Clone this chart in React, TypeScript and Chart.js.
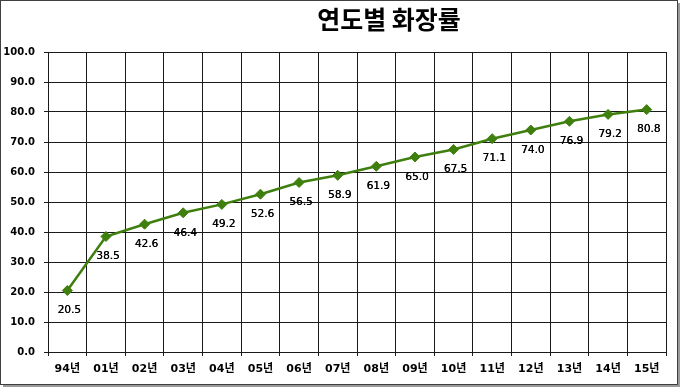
import React, { useEffect, useRef } from "react";
import { Chart, registerables } from "chart.js";

Chart.register(...registerables);

const TITLE = "연도별 화장률";
const categories = ["94년", "01년", "02년", "03년", "04년", "05년", "06년", "07년", "08년", "09년", "10년", "11년", "12년", "13년", "14년", "15년"];
const rates = [20.5, 38.5, 42.6, 46.4, 49.2, 52.6, 56.5, 58.9, 61.9, 65.0, 67.5, 71.1, 74.0, 76.9, 79.2, 80.8];

const FONT = "'DejaVu Sans', 'Noto Sans CJK KR', sans-serif";
const GREEN = "#3F7F0E";

const framePlugin = {
  id: "frame",
  beforeDraw(chart: any) {
    const { ctx } = chart;
    ctx.save();
    ctx.fillStyle = "#ffffff";
    ctx.fillRect(0, 0, chart.width, chart.height);
    ctx.fillStyle = "#9a9a9a";
    ctx.fillRect(3, 384, 676, 3);
    ctx.fillRect(677, 3, 3, 384);
    ctx.strokeStyle = "#404040";
    ctx.lineWidth = 1;
    ctx.strokeRect(0.5, 0.5, 677, 384);
    ctx.restore();
  },
  afterDraw(chart: any) {
    const { ctx } = chart;
    ctx.save();
    ctx.fillStyle = "#000";
    ctx.font = `bold 25px 'Noto Sans CJK KR', sans-serif`;
    ctx.textAlign = "center";
    ctx.textBaseline = "middle";
    ctx.fillText(TITLE, 389, 19);
    // value labels
    const meta = chart.getDatasetMeta(0);
    ctx.font = `10.5px ${FONT}`;
    ctx.fillStyle = "#000";
    meta.data.forEach((pt: any, i: number) => {
      const t = rates[i].toFixed(1);
      ctx.fillText(t, pt.x + 2, pt.y + 20);
      ctx.fillText(t, pt.x + 2.3, pt.y + 20);
    });
    ctx.restore();
  },
};

export default function App() {
  const ref = useRef<HTMLCanvasElement | null>(null);
  useEffect(() => {
    if (!ref.current) return;
    const chart = new Chart(ref.current, {
      type: "line",
      data: {
        labels: categories,
        datasets: [
          {
            data: rates,
            borderColor: GREEN,
            backgroundColor: GREEN,
            borderWidth: 2.5,
            pointStyle: "rectRot",
            pointRadius: 5,
            pointBorderWidth: 1,
            pointBackgroundColor: GREEN,
            pointBorderColor: GREEN,
            tension: 0,
          },
        ],
      },
      options: {
        animation: false,
        responsive: false,
        maintainAspectRatio: false,
        layout: { padding: { left: 0, top: 52, right: 14, bottom: 0 } },
        plugins: { legend: { display: false }, tooltip: { enabled: false }, title: { display: false } },
        scales: {
          x: {
            offset: true,
            grid: { offset: true, color: "#1a1a1a", lineWidth: 1, tickLength: 4, drawTicks: true },
            border: { color: "#1a1a1a", width: 1 },
            ticks: { color: "#000", font: { family: FONT, size: 11, weight: "bold" }, padding: 7, maxRotation: 0, autoSkip: false },
            afterFit: (s: any) => { s.height = 36; },
          },
          y: {
            min: 0,
            max: 100,
            grid: { color: "#1a1a1a", lineWidth: 1, tickLength: 4 },
            border: { color: "#1a1a1a", width: 1 },
            ticks: {
              stepSize: 10,
              color: "#000",
              padding: 9,
              font: { family: FONT, size: 10, weight: "bold" },
              callback: (v: any) => Number(v).toFixed(1),
            },
            afterFit: (s: any) => { s.width = 48; },
          },
        },
      },
      plugins: [framePlugin],
    });
    return () => chart.destroy();
  }, []);
  return (
    <div style={{ position: "absolute", left: 0, top: 0, width: 680, height: 388 }}>
      <canvas ref={ref} width={680} height={388} style={{ width: 680, height: 388, display: "block" }} />
    </div>
  );
}
